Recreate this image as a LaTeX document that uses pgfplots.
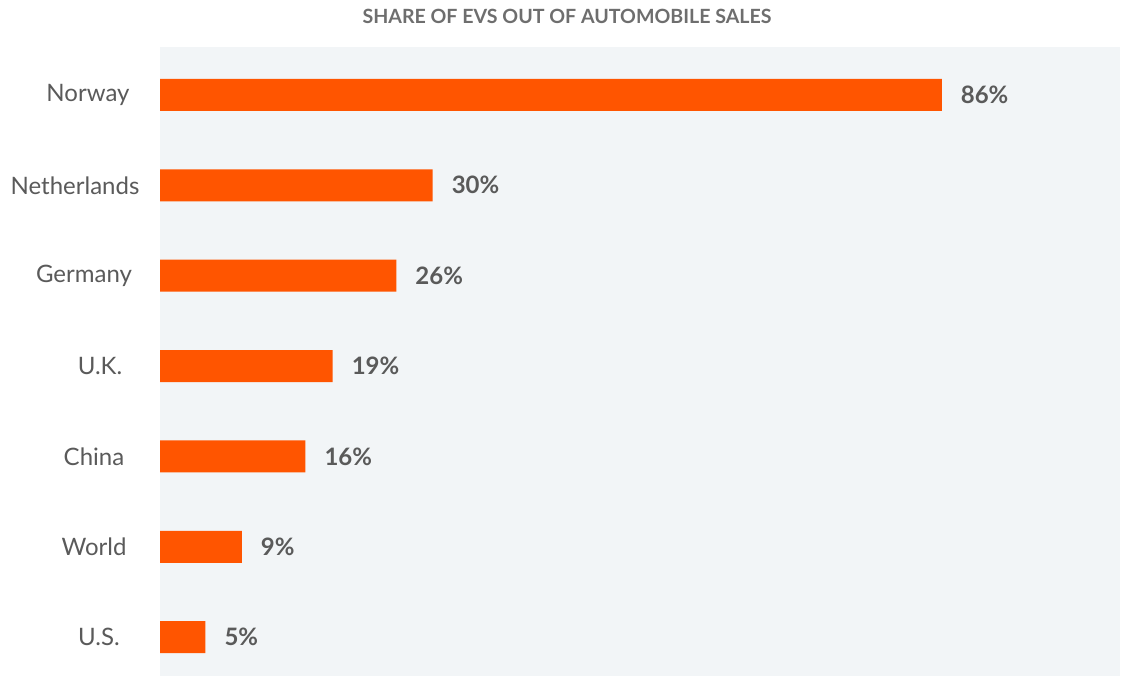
\documentclass[border=0pt]{standalone}
\usepackage{pgfplots}
\pgfplotsset{compat=1.18}
\usepackage{fontspec}
\setmainfont{Lato}
\definecolor{barc}{HTML}{FF5500}
\definecolor{bgc}{HTML}{F2F5F7}
\definecolor{txt}{HTML}{5A5A5A}
\definecolor{ttl}{HTML}{6E6E6E}
\begin{document}
\begin{tikzpicture}
\path[use as bounding box] (0pt,0pt) rectangle (564pt,338pt);
\node[font=\bfseries\fontsize{9.8}{11}\selectfont, text=ttl] at (283.5pt,330pt) {SHARE OF EVS OUT OF AUTOMOBILE SALES};
\begin{axis}[
  at={(80pt,0pt)}, anchor=south west,
  scale only axis, width=480pt, height=314.5pt,
  xmin=0, xmax=105.6, ymin=-0.43, ymax=6.53,
  xbar, bar width=16pt,
  axis background/.style={fill=bgc},
  axis line style={draw=none},
  major tick length=0pt,
  xtick=\empty,
  ytick={0,1,2,3,4,5,6},
  yticklabels={\hspace*{13pt}U.S.,\hspace*{8pt}World,\hspace*{8pt}China,\hspace*{14pt}U.K.,Germany\hspace*{2pt},Netherlands\hspace*{11pt},\hspace*{2pt}Norway},
  yticklabel style={anchor=center, xshift=-37pt, text=txt, font=\fontsize{12}{14}\selectfont},
  /pgf/number format/assume math mode=true,
  nodes near coords={\pgfmathprintnumber{\pgfplotspointmeta}\%},
  nodes near coords style={anchor=west, xshift=6pt, text=txt, font=\bfseries\fontsize{12}{14}\selectfont},
]
\addplot[fill=barc, draw=none] coordinates {(86,6) (30,5) (26,4) (19,3) (16,2) (9,1) (5,0)};
\end{axis}
\end{tikzpicture}
\end{document}
